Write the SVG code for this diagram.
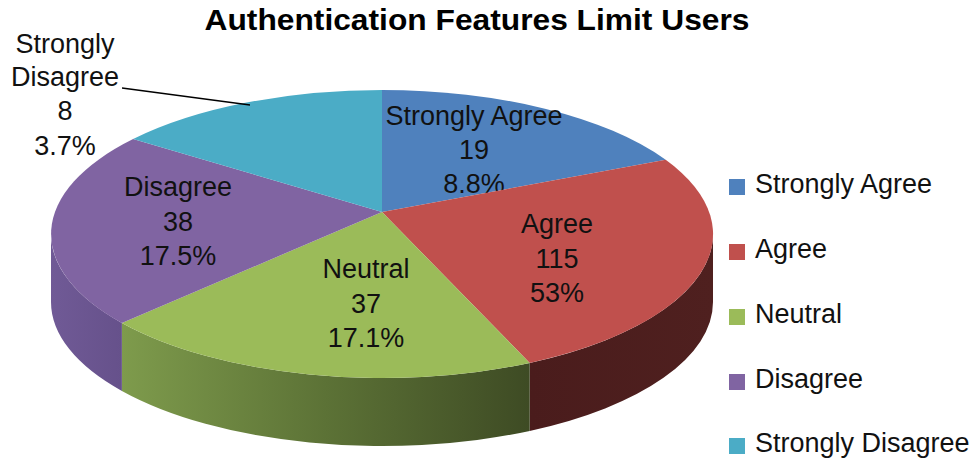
<svg xmlns="http://www.w3.org/2000/svg" width="975" height="461" viewBox="0 0 975 461">
  <style>
    .lbl { font-family: "Liberation Sans", Arial, sans-serif; font-size: 27px; fill: #111; text-anchor: middle; }
    .leg { font-family: "Liberation Sans", Arial, sans-serif; font-size: 27px; fill: #111; }
    .title { font-family: "Liberation Sans", Arial, sans-serif; font-size: 30px; font-weight: bold; fill: #000; text-anchor: middle; }
    .lead { stroke: #000; stroke-width: 1.3; fill: none; }
  </style>
  <defs>
    <linearGradient id="gRedSide" gradientUnits="userSpaceOnUse" x1="530" y1="0" x2="713" y2="0">
      <stop offset="0" stop-color="#4a1c1c"/>
      <stop offset="1" stop-color="#4f201f"/>
    </linearGradient>
    <linearGradient id="gGreenSide" gradientUnits="userSpaceOnUse" x1="122" y1="0" x2="530" y2="0">
      <stop offset="0" stop-color="#7e9b4c"/>
      <stop offset="0.5" stop-color="#5c7236"/>
      <stop offset="1" stop-color="#3e4b24"/>
    </linearGradient>
    <linearGradient id="gPurpleSide" gradientUnits="userSpaceOnUse" x1="51" y1="0" x2="122" y2="0">
      <stop offset="0" stop-color="#705a96"/>
      <stop offset="1" stop-color="#66518b"/>
    </linearGradient>
  </defs>

  <rect x="0" y="0" width="975" height="461" fill="#ffffff"/>

  <text class="title" x="477" y="30" textLength="545" lengthAdjust="spacingAndGlyphs">Authentication Features Limit Users</text>

  <g id="pie-sides">
    <path d="M713,234 A331,144 0 0 1 529.7,362.9 L529.7,430.9 A331,144 0 0 0 713,302 Z" fill="url(#gRedSide)"/>
    <path d="M529.7,362.9 A331,144 0 0 1 121.9,323 L121.9,391 A331,144 0 0 0 529.7,430.9 Z" fill="url(#gGreenSide)"/>
    <path d="M121.9,323 A331,144 0 0 1 51,234 L51,302 A331,144 0 0 0 121.9,391 Z" fill="url(#gPurpleSide)"/>
  </g>

  <g id="slice-strongly-agree">
    <path d="M382,212 L382,90 A331,144 0 0 1 665.7,159.8 Z" fill="#4f81bd"/>
    <text class="lbl" x="474" y="125">Strongly Agree</text>
    <text class="lbl" x="474" y="159">19</text>
    <text class="lbl" x="474" y="193">8.8%</text>
  </g>

  <g id="slice-agree">
    <path d="M382,212 L665.7,159.8 A331,144 0 0 1 529.7,362.9 Z" fill="#c0504d"/>
    <text class="lbl" x="557" y="233">Agree</text>
    <text class="lbl" x="557" y="268">115</text>
    <text class="lbl" x="557" y="302">53%</text>
  </g>

  <g id="slice-neutral">
    <path d="M382,212 L529.7,362.9 A331,144 0 0 1 121.9,323 Z" fill="#9bbb59"/>
    <text class="lbl" x="366" y="278">Neutral</text>
    <text class="lbl" x="366" y="313">37</text>
    <text class="lbl" x="366" y="347">17.1%</text>
  </g>

  <g id="slice-disagree">
    <path d="M382,212 L121.9,323 A331,144 0 0 1 133.1,139.1 Z" fill="#8064a2"/>
    <text class="lbl" x="178" y="196">Disagree</text>
    <text class="lbl" x="178" y="231">38</text>
    <text class="lbl" x="178" y="265">17.5%</text>
  </g>

  <g id="slice-strongly-disagree">
    <path d="M382,212 L133.1,139.1 A331,144 0 0 1 382,90 Z" fill="#4bacc6"/>
    <text class="lbl" x="65" y="53">Strongly</text>
    <text class="lbl" x="65" y="86">Disagree</text>
    <text class="lbl" x="65" y="120">8</text>
    <text class="lbl" x="65" y="155">3.7%</text>
  </g>

  <g id="connectors">
    <path class="lead" d="M122,88 L250,105"/>
  </g>

  <g id="legend">
    <g id="legend-strongly-agree">
      <rect x="729" y="179" width="16" height="16" fill="#4f81bd"/>
      <text class="leg" x="755" y="193">Strongly Agree</text>
    </g>
    <g id="legend-agree">
      <rect x="729" y="244" width="16" height="16" fill="#c0504d"/>
      <text class="leg" x="755" y="258">Agree</text>
    </g>
    <g id="legend-neutral">
      <rect x="729" y="309" width="16" height="16" fill="#9bbb59"/>
      <text class="leg" x="755" y="323">Neutral</text>
    </g>
    <g id="legend-disagree">
      <rect x="729" y="374" width="16" height="16" fill="#8064a2"/>
      <text class="leg" x="755" y="388">Disagree</text>
    </g>
    <g id="legend-strongly-disagree">
      <rect x="729" y="438" width="16" height="16" fill="#4bacc6"/>
      <text class="leg" x="755" y="452">Strongly Disagree</text>
    </g>
  </g>
</svg>
